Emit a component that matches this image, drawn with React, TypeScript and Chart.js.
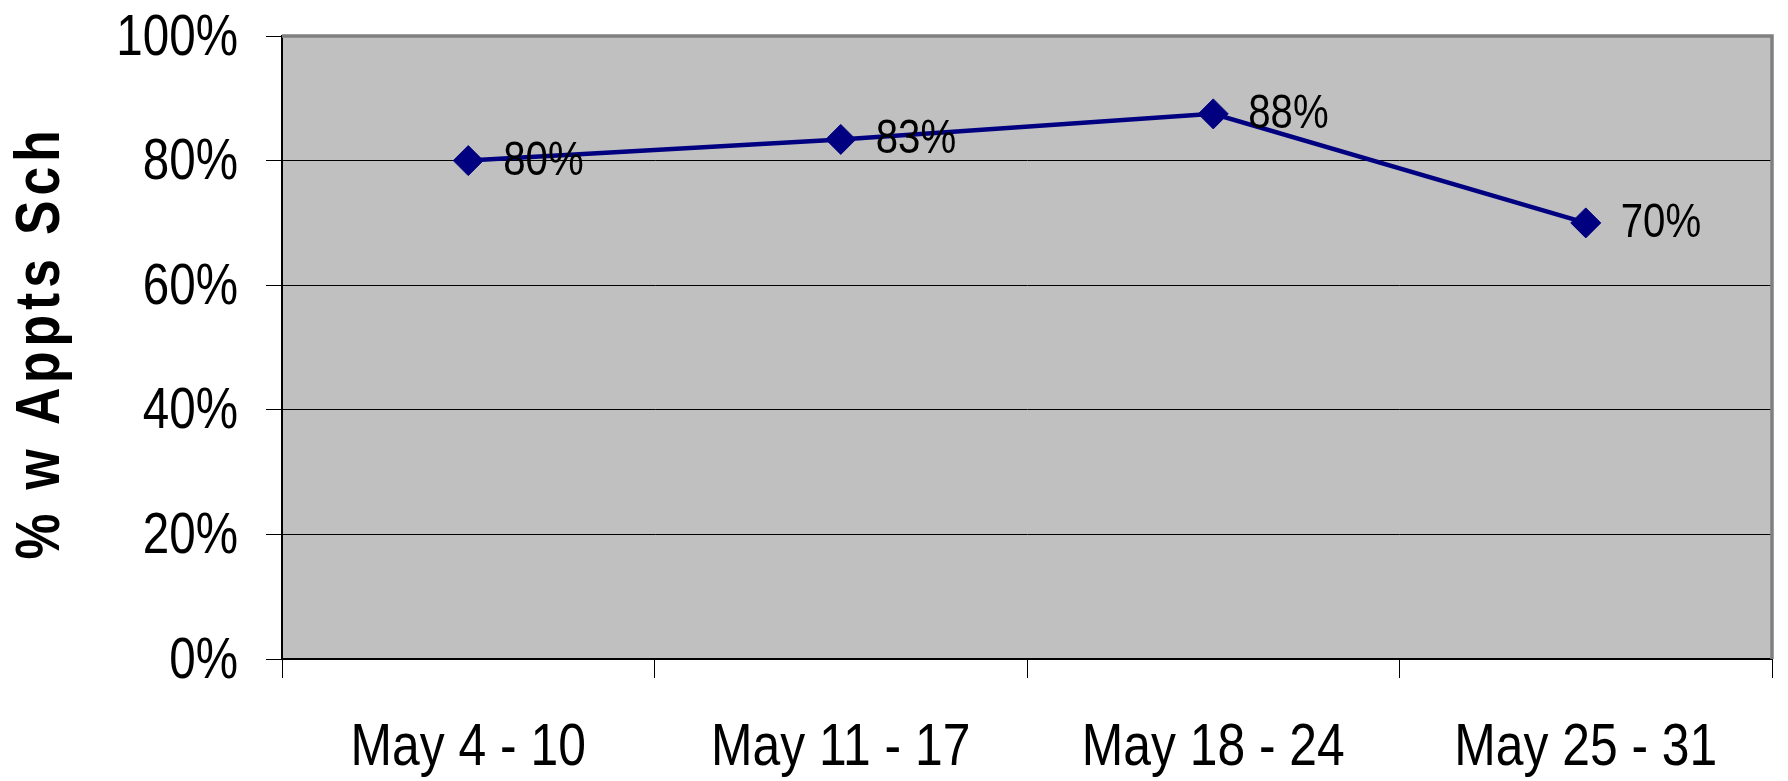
import React, { useEffect, useRef } from "react";
import { Chart, registerables } from "chart.js";

Chart.register(...registerables);

const categories: string[] = ["May 4 - 10", "May 11 - 17", "May 18 - 24", "May 25 - 31"];
const seriesValues: number[] = [0.8, 0.834, 0.875, 0.7];
const yTickValues: number[] = [0, 0.2, 0.4, 0.6, 0.8, 1];
const yAxisTitle = "% w Appts Sch";

const FAMILY = "'Liberation Sans', Arial, sans-serif";
const pct = (v: number) => Math.round(v * 100) + "%";

function narrowText(ctx: any, text: string, x: number, y: number, align: string, size: number, sx = 0.82, bold = false, rotate = false, spacing = 0) {
  ctx.save();
  ctx.translate(x, y);
  if (rotate) ctx.rotate(-Math.PI / 2);
  ctx.scale(sx, 1);
  ctx.font = (bold ? "bold " : "") + size + "px " + FAMILY;
  ctx.fillStyle = "#000";
  ctx.textAlign = align;
  ctx.textBaseline = "alphabetic";
  if (spacing) {
    (ctx as any).letterSpacing = spacing + "px";
  }
  ctx.fillText(text, 0, 0);
  ctx.restore();
}

const plotStyle = {
  id: "plotStyle",
  beforeDraw(chart: any) {
    const { ctx, chartArea } = chart;
    ctx.save();
    ctx.fillStyle = "#c0c0c0";
    ctx.fillRect(chartArea.left, chartArea.top, chartArea.right - chartArea.left, chartArea.bottom - chartArea.top);
    ctx.restore();
  },
  beforeDatasetsDraw(chart: any) {
    const { ctx, chartArea } = chart;
    ctx.save();
    ctx.strokeStyle = "#808080";
    ctx.lineWidth = 3.5;
    ctx.beginPath();
    ctx.moveTo(chartArea.left, chartArea.top);
    ctx.lineTo(chartArea.right, chartArea.top);
    ctx.lineTo(chartArea.right, chartArea.bottom);
    ctx.stroke();
    ctx.restore();
  },
  afterDatasetsDraw(chart: any) {
    const { ctx } = chart;
    const meta = chart.getDatasetMeta(0);
    meta.data.forEach((pt: any, i: number) => {
      narrowText(ctx, pct(seriesValues[i]), pt.x + 35, pt.y + 14, "left", 49);
    });
  },
  afterDraw(chart: any) {
    const { ctx } = chart;
    const xs = chart.scales.x;
    const ys = chart.scales.y;
    ys.ticks.forEach((t: any) => {
      narrowText(ctx, pct(t.value), ys.right - 44, ys.getPixelForValue(t.value) + 18.5, "right", 58);
    });
    categories.forEach((c, i) => {
      narrowText(ctx, c, xs.getPixelForTick(i), 765, "center", 60, 0.83);
    });
    const cy = (chart.chartArea.top + chart.chartArea.bottom) / 2 - 5;
    narrowText(ctx, yAxisTitle, 59, cy, "center", 63, 0.82, true, true, 6);
  },
};

export default function App() {
  const ref = useRef<HTMLCanvasElement | null>(null);
  useEffect(() => {
    if (!ref.current) return;
    const chart = new Chart(ref.current, {
      type: "line",
      data: {
        labels: categories,
        datasets: [
          {
            data: seriesValues,
            borderColor: "#000080",
            backgroundColor: "#000080",
            borderWidth: 4.5,
            pointStyle: "rectRot",
            pointRadius: 15,
            pointHoverRadius: 15,
            pointBackgroundColor: "#000080",
            pointBorderColor: "#000080",
            pointBorderWidth: 1,
            tension: 0,
          },
        ],
      },
      options: {
        animation: false,
        responsive: true,
        maintainAspectRatio: false,
        layout: { padding: { top: 36, right: 13, bottom: 0, left: 0 } },
        plugins: { legend: { display: false }, tooltip: { enabled: false }, title: { display: false } },
        scales: {
          x: {
            type: "category",
            offset: true,
            grid: { offset: true, drawOnChartArea: false, drawTicks: true, tickLength: 19, color: "#000", lineWidth: 1 },
            border: { display: true, color: "#000", width: 2 },
            ticks: { display: false, autoSkip: false },
            afterFit: (s: any) => { s.height = 122; },
          },
          y: {
            min: 0,
            max: 1,
            afterBuildTicks: (s: any) => { s.ticks = yTickValues.map((v) => ({ value: v })); },
            grid: { color: "#000", lineWidth: 1, tickLength: 16, drawTicks: true },
            border: { display: true, color: "#000", width: 2 },
            ticks: { display: false },
            title: { display: false, text: yAxisTitle },
            afterFit: (s: any) => { s.width = 282; },
          },
        },
      },
      plugins: [plotStyle],
    });
    return () => chart.destroy();
  }, []);
  return (
    <div style={{ position: "fixed", left: 0, top: 0, width: 1788, height: 781, background: "#fff" }}>
      <canvas ref={ref} />
    </div>
  );
}
